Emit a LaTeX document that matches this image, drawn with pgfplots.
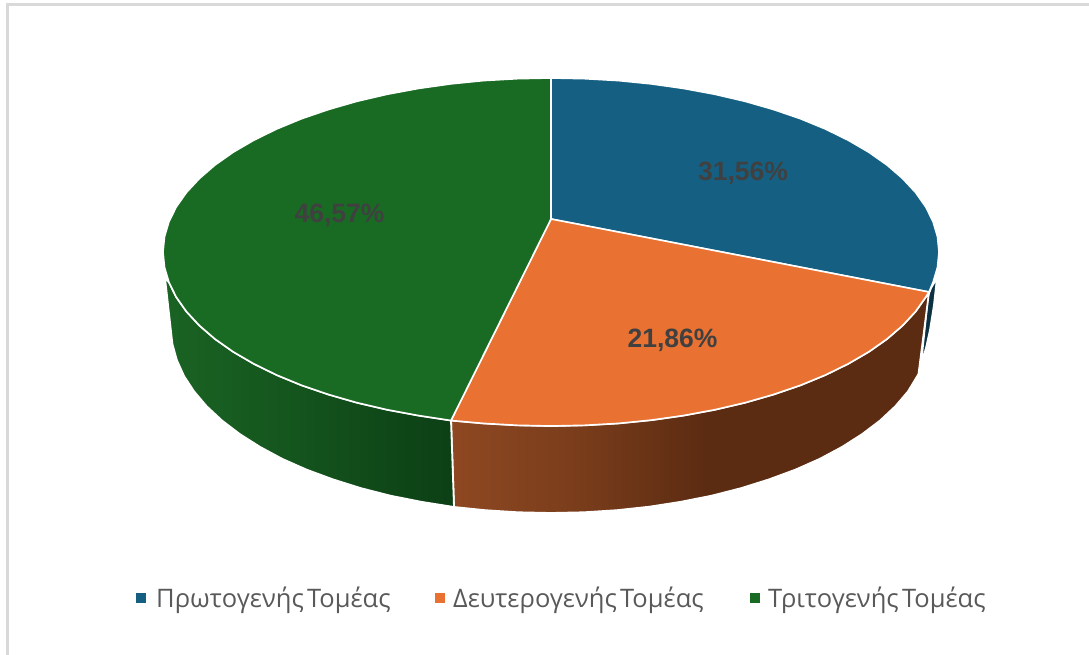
\documentclass[border=0pt]{standalone}
\usepackage{pgfplots}
\pgfplotsset{compat=1.18}
\usepackage{fontspec}
\setmainfont{Open Sans}
\newfontfamily\lab{Liberation Sans}
\definecolor{cblue}{HTML}{156082}
\definecolor{corange}{HTML}{E97132}
\definecolor{cgreen}{HTML}{196B24}
\definecolor{cbside}{HTML}{0B3142}
\definecolor{frameg}{HTML}{D9D9D9}
\definecolor{ltxt}{HTML}{404040}
\definecolor{legt}{HTML}{595959}
\definecolor{orA}{HTML}{8E4822}
\definecolor{orB}{HTML}{7A3D1B}
\definecolor{orC}{HTML}{5B2B12}
\definecolor{grA}{HTML}{1A6323}
\definecolor{grB}{HTML}{15561E}
\definecolor{grC}{HTML}{0C3F15}
\pgfdeclarehorizontalshading{orside}{100bp}{color(0bp)=(orA); color(25bp)=(orA); color(38bp)=(orB); color(52bp)=(orC); color(75bp)=(orC); color(100bp)=(orC)}
\pgfdeclarehorizontalshading{grside}{100bp}{color(0bp)=(grA); color(25bp)=(grA); color(45bp)=(grB); color(75bp)=(grC); color(100bp)=(grC)}
\newcommand{\gap}{\hspace{-0.13em}}
\begin{document}
\begin{tikzpicture}
\begin{axis}[
  scale only axis, width=1089pt, height=655pt,
  xmin=0, xmax=1089, ymin=0, ymax=655, y dir=reverse,
  axis lines=none, clip=true,
]
% extent of the picture
\addplot[draw=none] coordinates {(0,0) (1089,655)};
% frame
\addplot[draw=frameg, line width=3pt] coordinates {(7.5,655) (7.5,4.5) (1089,4.5)};
% side walls
\addplot[draw=white, line width=1.8pt, fill=cbside] coordinates {
(937,278) (934,305) (930,330) (926,348) (921,365) (928,296) (931,288) (937,278)};
\addplot[draw=white, line width=1.8pt, shade, shading=orside] coordinates {
(929,292) (925.8,297) (915.6,311.5) (902.6,325.5) (887,339) (868.8,351.8) (848.2,363.8) (825.4,375) (800.4,385.3) (773.5,394.5) (745,402.7) (715,409.7) (683.7,415.5) (651.4,420.1) (618.4,423.4) (584.8,425.3) (551,426) (517.2,425.3) (483.6,423.4) (451,420.5)
(454,507) (485,510.2) (518,512.3) (551,513) (584,512.3) (617,510.2) (649.4,506.7) (681,501.8) (711.6,495.7) (741,488.2) (769,479.4) (795.3,469.7) (819.7,458.9) (842.1,446.9) (862.3,434) (880.1,420.5) (895.4,406.2) (908.1,391.3) (918.5,374) (929,292)};
\addplot[draw=white, line width=1.8pt, shade, shading=grside] coordinates {
(451,420.5) (418.3,415.5) (387,409.7) (357,402.7) (328.5,394.5) (301.6,385.3) (276.6,375) (253.8,363.8) (233.2,351.8) (215,339) (199.4,325.5) (186.4,311.5) (176.2,297) (168.9,282.2) (165,278)
(172.4,344) (176.8,360) (184,376) (194,391.3) (206.6,406.2) (222,420.5) (239.7,434) (260,446.9) (282.3,458.9) (306.7,469.7) (333,479.4) (361,488.2) (390.4,495.7) (421,501.8) (454,507) (451,420.5)};
% top faces
\addplot[draw=white, line width=1.6pt, fill=cblue] coordinates {
(551,219) (551,78) (584.8,78.7) (618.4,80.6) (651.4,83.9) (683.7,88.5) (715,94.3) (745,101.3) (773.5,109.5) (800.4,118.7) (825.4,129) (848.2,140.2) (868.8,152.2) (887,165) (902.6,178.5) (915.6,192.5) (925.8,207) (933.1,221.8) (937.5,236.8) (939,252) (937.5,267.2) (933.1,282.2) (929,292) (551,219)};
\addplot[draw=white, line width=1.6pt, fill=corange] coordinates {
(551,219) (929,292) (925.8,297) (915.6,311.5) (902.6,325.5) (887,339) (868.8,351.8) (848.2,363.8) (825.4,375) (800.4,385.3) (773.5,394.5) (745,402.7) (715,409.7) (683.7,415.5) (651.4,420.1) (618.4,423.4) (584.8,425.3) (551,426) (517.2,425.3) (483.6,423.4) (451,420.5) (551,219)};
\addplot[draw=white, line width=1.6pt, fill=cgreen] coordinates {
(551,219) (451,420.5) (418.3,415.5) (387,409.7) (357,402.7) (328.5,394.5) (301.6,385.3) (276.6,375) (253.8,363.8) (233.2,351.8) (215,339) (199.4,325.5) (186.4,311.5) (176.2,297) (168.9,282.2) (164.5,267.2) (163,252) (164.5,236.8) (168.9,221.8) (176.2,207) (186.4,192.5) (199.4,178.5) (215,165) (233.2,152.2) (253.8,140.2) (276.6,129) (301.6,118.7) (328.5,109.5) (357,101.3) (387,94.3) (418.3,88.5) (450.6,83.9) (483.6,80.6) (517.2,78.7) (551,78) (551,219)};
% legend squares
\addplot[only marks, mark=square*, mark size=4.5pt, color=cblue] coordinates {(141,598)};
\addplot[only marks, mark=square*, mark size=4.5pt, color=corange] coordinates {(440,598)};
\addplot[only marks, mark=square*, mark size=4.5pt, color=cgreen] coordinates {(755,598)};
% labels
\node[text=ltxt, font=\lab\bfseries\fontsize{26.5}{26.5}\selectfont] at (axis cs:743,173) {31,56\%};
\node[text=ltxt, font=\lab\bfseries\fontsize{26.5}{26.5}\selectfont] at (axis cs:672.5,340) {21,86\%};
\node[text=ltxt, font=\lab\bfseries\fontsize{26.5}{26.5}\selectfont] at (axis cs:339.5,215) {46,57\%};
\node[anchor=base west, inner sep=0pt, text=legt, font=\fontsize{25.5}{25.5}\selectfont] at (axis cs:156,607) {Πρωτογενής\gap{} Τομέας};
\node[anchor=base west, inner sep=0pt, text=legt, font=\fontsize{25.5}{25.5}\selectfont] at (axis cs:453,607) {Δευτερογενής\gap{} Τομέας};
\node[anchor=base west, inner sep=0pt, text=legt, font=\fontsize{25.5}{25.5}\selectfont] at (axis cs:768,607) {Τριτογενής\gap{} Τομέας};
\end{axis}
\end{tikzpicture}
\end{document}
